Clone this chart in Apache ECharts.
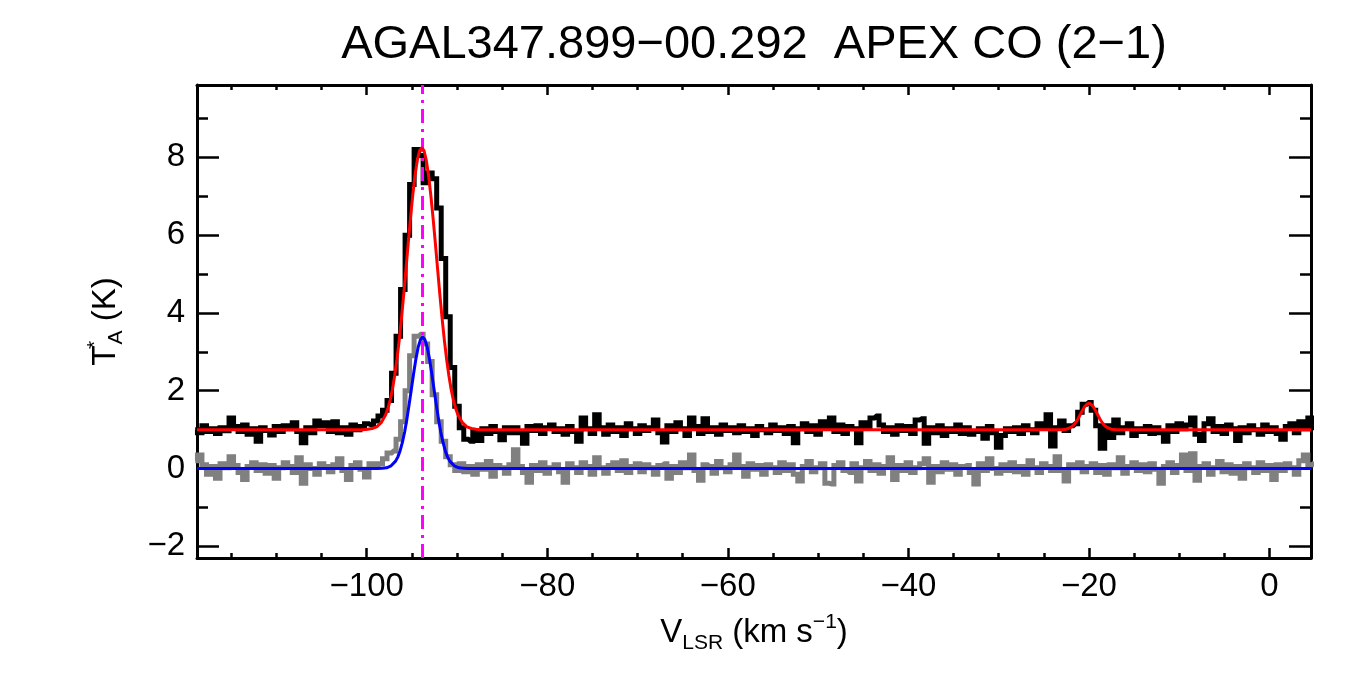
<!DOCTYPE html>
<html>
<head>
<meta charset="utf-8">
<title>AGAL347.899-00.292 APEX CO (2-1)</title>
<script src="https://cdn.jsdelivr.net/npm/echarts@6/dist/echarts.min.js"></script>
<style>
  html, body { margin: 0; padding: 0; background: #fff; }
  #main { width: 1350px; height: 675px; }
</style>
</head>
<body>
<div id="main"></div>
<script>
// channel grid of both spectra (km/s)
var velStart = -119.0;
var velStep = 0.5;

// CO (2-1) spectrum, offset by +1 K (black)
var coSpec = [
  1.00,
  0.92, 1.10, 0.95, 1.02, 0.90, 1.05, 0.97, 1.30, 1.08, 0.95,
  1.12, 0.88, 1.02, 0.70, 1.05, 0.98, 0.86, 1.08, 0.95, 1.10,
  1.02, 1.18, 0.95, 0.66, 1.05, 0.92, 1.22, 1.10, 1.18, 0.95,
  1.20, 0.92, 1.05, 0.88, 1.12, 1.00, 1.08, 1.15, 1.12, 1.22,
  1.35, 1.50, 1.75, 2.45, 3.40, 4.60, 6.00, 7.30, 8.20, 8.05,
  7.35, 7.60, 7.45, 6.70, 5.40, 3.90, 2.60, 1.60, 1.05, 0.75,
  0.70, 0.95, 0.72, 1.02, 0.90, 1.08, 0.95, 0.74, 1.05, 0.92,
  1.05, 0.92, 0.65, 1.08, 0.98, 1.10, 0.90, 1.05, 1.12, 0.95,
  1.02, 0.88, 1.08, 0.95, 0.70, 1.30, 1.02, 0.90, 1.38, 1.05,
  0.88, 1.12, 0.95, 1.05, 0.85, 1.15, 1.02, 0.90, 1.10, 0.98,
  1.05, 1.25, 0.92, 0.68, 1.10, 0.95, 1.18, 1.02, 0.85, 1.30,
  1.08, 0.90, 1.28, 0.95, 1.05, 0.88, 1.12, 0.98, 1.05, 0.92,
  1.10, 0.95, 1.02, 0.85, 1.08, 1.00, 0.92, 1.12, 0.98, 1.05,
  0.90, 1.08, 0.66, 1.02, 1.15, 0.95, 1.10, 0.88, 1.20, 1.05,
  1.30, 0.95, 1.12, 0.90, 1.08, 1.02, 0.66, 1.18, 1.05, 1.30,
  1.35, 1.12, 0.95, 1.05, 0.88, 1.10, 0.98, 1.08, 0.90, 1.25,
  1.28, 0.65, 1.05, 0.92, 1.10, 0.85, 1.02, 0.95, 1.12, 0.90,
  1.05, 0.88, 0.95, 1.02, 0.78, 1.08, 0.92, 0.55, 0.85, 1.02,
  0.95, 1.05, 0.90, 1.10, 1.00, 0.92, 1.15, 1.05, 1.38, 0.58,
  1.05, 1.22, 0.98, 1.10, 1.15, 1.45, 1.65, 1.70, 1.50, 1.10,
  0.52, 1.10, 0.80, 1.25, 0.92, 1.05, 1.15, 0.85, 1.02, 0.95,
  1.08, 0.90, 1.05, 0.92, 0.70, 1.10, 0.95, 1.15, 1.02, 1.12,
  1.30, 0.88, 0.72, 1.15, 1.28, 0.95, 1.08, 0.90, 1.12, 1.02,
  0.72, 1.05, 0.92, 1.10, 1.00, 0.88, 1.12, 0.95, 1.05, 0.90,
  0.75, 1.08, 1.15, 0.92, 1.20, 1.02, 1.30,
  1.05
];

// second spectrum at 0 K (grey)
var greySpec = [
  0.20,
  0.35, 0.10, -0.15, 0.05, -0.25, 0.12, 0.02, 0.30, 0.08, -0.10,
  -0.28, 0.05, 0.15, -0.05, 0.10, -0.12, 0.08, -0.25, 0.02, 0.15,
  0.05, -0.10, 0.28, -0.38, 0.10, 0.00, -0.15, 0.12, 0.05, -0.08,
  0.10, 0.25, -0.05, -0.28, 0.08, 0.15, -0.02, -0.22, 0.12, 0.05,
  0.12, 0.25, 0.40, 0.45, 0.75, 1.20, 2.00, 2.90, 3.40, 3.45,
  3.20, 2.75, 1.90, 1.20, 0.70, 0.30, 0.10, -0.05, 0.12, -0.08,
  0.05, -0.15, 0.10, -0.02, 0.18, -0.20, 0.08, 0.02, -0.12, 0.10,
  0.48, 0.05, -0.10, -0.35, 0.08, -0.05, 0.15, -0.12, 0.02, 0.10,
  -0.08, -0.35, 0.12, 0.02, -0.10, 0.15, 0.05, -0.15, 0.28, 0.02,
  -0.12, 0.08, 0.15, -0.05, 0.20, -0.10, 0.05, 0.12, -0.08, 0.10,
  0.02, -0.15, 0.08, 0.12, -0.25, 0.05, -0.10, 0.15, 0.02, 0.35,
  -0.05, -0.30, 0.10, 0.05, -0.12, 0.18, 0.02, -0.08, 0.10, 0.35,
  0.05, -0.20, 0.12, -0.02, 0.08, -0.15, 0.10, 0.02, -0.10, 0.15,
  -0.05, 0.10, -0.15, -0.32, 0.05, 0.18, -0.08, 0.02, 0.12, -0.38,
  -0.40, 0.08, 0.15, -0.05, -0.10, 0.12, -0.32, 0.02, 0.18, -0.05,
  0.10, -0.12, 0.05, 0.28, -0.28, 0.08, -0.05, 0.15, -0.10, 0.02,
  0.12, 0.25, -0.35, 0.05, -0.08, 0.15, -0.02, 0.10, -0.15, 0.05,
  0.08, -0.10, -0.40, 0.12, -0.05, 0.25, 0.00, -0.12, 0.10, -0.05,
  0.15, -0.08, 0.05, -0.15, 0.20, 0.02, -0.10, 0.12, 0.05, -0.05,
  0.30, -0.05, -0.32, 0.10, 0.02, 0.15, -0.08, 0.05, 0.12, -0.10,
  0.08, -0.15, 0.10, 0.02, 0.28, -0.12, 0.05, 0.15, -0.05, 0.10,
  -0.08, 0.12, -0.02, -0.38, 0.05, 0.15, -0.10, 0.08, 0.35, -0.05,
  0.38, -0.30, 0.05, 0.12, -0.15, 0.02, 0.18, -0.08, 0.10, -0.12,
  0.05, -0.25, 0.12, 0.02, -0.10, 0.15, -0.05, 0.08, -0.28, 0.10,
  -0.05, 0.12, 0.02, -0.15, 0.20, 0.35, 0.10,
  0.15
];

// red fit (two components on the black spectrum)
var redFitV = [
  -118.8, -100.4, -99.9, -99.4, -98.9, -98.4, -97.9, -97.65, -97.4, -97.15,
  -96.9, -96.65, -96.4, -96.15, -95.9, -95.65, -95.4, -95.15, -94.9, -94.65,
  -94.4, -94.15, -93.9, -93.65, -93.4, -93.15, -92.9, -92.65, -92.4, -92.15,
  -91.9, -91.65, -91.4, -91.15, -90.9, -90.65, -90.4, -90.15, -89.9, -89.4,
  -88.9, -88.4, -87.9, -87.4,
  -23.0, -22.5, -22.0, -21.75, -21.5, -21.25, -21.0, -20.75, -20.5, -20.25,
  -20.0, -19.75, -19.5, -19.25, -19.0, -18.75, -18.5, -18.25, -18.0, -17.5,
  -17.0, 4.6
];
var redFitT = [
  1.00, 1.00, 1.01, 1.03, 1.07, 1.18, 1.38, 1.55, 1.76, 2.04,
  2.39, 2.81, 3.30, 3.86, 4.48, 5.13, 5.80, 6.44, 7.03, 7.54,
  7.92, 8.17, 8.25, 8.17, 7.92, 7.54, 7.03, 6.44, 5.80, 5.13,
  4.48, 3.86, 3.30, 2.81, 2.39, 2.04, 1.76, 1.55, 1.38, 1.18,
  1.07, 1.03, 1.01, 1.00,
  1.00, 1.01, 1.06, 1.10, 1.17, 1.26, 1.37, 1.48, 1.58, 1.65,
  1.68, 1.65, 1.58, 1.48, 1.37, 1.26, 1.17, 1.10, 1.06, 1.01,
  1.00, 1.00
];

// blue fit on the grey spectrum
var blueFitV = [
  -118.8, -98.8, -98.3, -97.8, -97.3, -96.8, -96.55, -96.3, -96.05, -95.8,
  -95.55, -95.3, -95.05, -94.8, -94.55, -94.3, -94.05, -93.8, -93.55, -93.3,
  -93.05, -92.8, -92.55, -92.3, -92.05, -91.8, -91.55, -91.3, -91.05, -90.8,
  -90.3, -89.8, -89.3, -88.8, 4.6
];
var blueFitT = [
  0.00, 0.00, 0.01, 0.02, 0.07, 0.19, 0.30, 0.46, 0.67, 0.94,
  1.27, 1.65, 2.05, 2.45, 2.82, 3.12, 3.31, 3.38, 3.31, 3.12,
  2.82, 2.45, 2.05, 1.65, 1.27, 0.94, 0.67, 0.46, 0.30, 0.19,
  0.07, 0.02, 0.01, 0.00, 0.00
];

// source velocity (dash-dot marker)
var vlsrLine = -93.9;

// axes
var xRange = [-118.8, 4.6];
var yRange = [-2.3, 9.86];
var xMajor = [-100, -80, -60, -40, -20, 0];
var xMinor = [-115, -110, -105, -95, -90, -85, -75, -70, -65, -55, -50, -45,
              -35, -30, -25, -15, -10, -5];
var yMajor = [-2, 0, 2, 4, 6, 8];
var yMinor = [-1, 1, 3, 5, 7, 9];

var font = 'Liberation Sans, Arial, Helvetica, sans-serif';

function minus(v) {
  return (v < 0 ? '\u2212' : '') + Math.abs(v);
}

function specData(vals) {
  var out = [];
  for (var i = 0; i < vals.length; i++) {
    out.push([velStart + i * velStep, vals[i]]);
  }
  return out;
}

function pairs(v, t) {
  return v.map(function (x, i) { return [x, t[i]]; });
}

// one axis per side and per tick length (major / minor)
function makeAxis(type, pos, ticks, len, opts) {
  var range = type === 'x' ? xRange : yRange;
  var ax = {
    type: 'value',
    position: pos,
    min: range[0],
    max: range[1],
    axisLine: { show: !!opts.line, onZero: false, lineStyle: { color: '#000', width: 3 } },
    axisTick: { show: true, inside: true, length: len, customValues: ticks,
                lineStyle: { color: '#000', width: 2.5 } },
    axisLabel: { show: false },
    splitLine: { show: false }
  };
  if (opts.labels) {
    ax.axisLabel = {
      show: true, customValues: ticks, formatter: minus,
      fontSize: 33, color: '#000', fontFamily: font, margin: 12
    };
  }
  if (opts.name) {
    ax.name = opts.name;
    ax.nameLocation = 'middle';
    ax.nameGap = opts.nameGap;
    ax.nameRotate = opts.nameRotate;
    ax.nameTextStyle = {
      fontSize: 33, color: '#000', fontFamily: font, lineHeight: 42,
      rich: {
        sub: { fontSize: 21, fontFamily: font, color: '#000', lineHeight: 21, verticalAlign: 'bottom' },
        sup: { fontSize: 21, fontFamily: font, color: '#000', lineHeight: 21, verticalAlign: 'top' },
        star: { fontSize: 21, fontFamily: font, color: '#000', lineHeight: 21, verticalAlign: 'top', width: 1 }
      }
    };
  }
  return ax;
}

var chart = echarts.init(document.getElementById('main'));

chart.setOption({
  backgroundColor: '#fff',
  animation: false,
  title: {
    text: 'AGAL347.899\u221200.292  APEX CO (2\u22121)',
    left: 754,
    top: 22,
    textAlign: 'center',
    padding: 0,
    textStyle: { fontSize: 47, fontWeight: 'normal', color: '#000', fontFamily: font }
  },
  grid: { left: 197, right: 39, top: 85, bottom: 117, containLabel: false },
  xAxis: [
    makeAxis('x', 'bottom', xMajor, 10, {
      line: true, labels: true,
      name: 'V{sub|LSR} (km s{sup|\u22121})', nameGap: 54
    }),
    makeAxis('x', 'bottom', xMinor, 5, {}),
    makeAxis('x', 'top', xMajor, 10, { line: true }),
    makeAxis('x', 'top', xMinor, 5, {})
  ],
  yAxis: [
    makeAxis('y', 'left', yMajor, 22, {
      line: true, labels: true,
      name: 'T{star|*}{sub|A} (K)', nameGap: 70, nameRotate: 90
    }),
    makeAxis('y', 'left', yMinor, 11, {}),
    makeAxis('y', 'right', yMajor, 22, { line: true }),
    makeAxis('y', 'right', yMinor, 11, {})
  ],
  series: [
    {
      name: 'grey', type: 'line', step: 'middle', data: specData(greySpec),
      symbol: 'none', z: 2,
      lineStyle: { color: '#808080', width: 5, cap: 'butt', join: 'miter' }
    },
    {
      name: 'co', type: 'line', step: 'middle', data: specData(coSpec),
      symbol: 'none', z: 3,
      lineStyle: { color: '#000', width: 5, cap: 'butt', join: 'miter' }
    },
    {
      name: 'blueFit', type: 'line', data: pairs(blueFitV, blueFitT),
      symbol: 'none', z: 4,
      lineStyle: { color: '#0000ff', width: 3 }
    },
    {
      name: 'redFit', type: 'line', data: pairs(redFitV, redFitT),
      symbol: 'none', z: 5,
      lineStyle: { color: '#ff0000', width: 3 },
      markLine: {
        silent: true,
        symbol: ['none', 'none'],
        label: { show: false },
        lineStyle: { color: '#ff00ff', width: 3, type: [14, 6, 3, 6] },
        data: [{ xAxis: vlsrLine }]
      }
    }
  ]
});
</script>
</body>
</html>
